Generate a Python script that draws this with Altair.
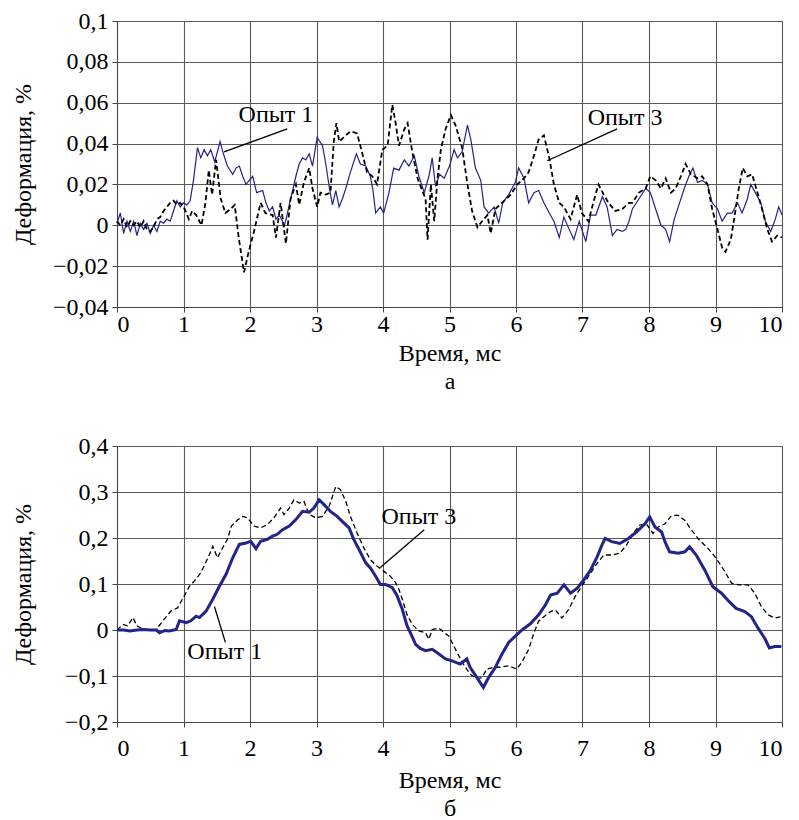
import altair as alt
import pandas as pd

# ---------------- panel "а" ----------------
a_t1 = [0.0, 0.05, 0.1, 0.15, 0.2, 0.25, 0.3, 0.35, 0.4, 0.45, 0.5, 0.55, 0.6, 0.65, 0.7, 0.75, 0.8, 0.85, 0.9, 0.95,
        1.0, 1.05, 1.1, 1.15, 1.21, 1.26, 1.31, 1.36, 1.41, 1.47, 1.55, 1.6, 1.66, 1.74, 1.79, 1.84, 1.89, 1.94, 2.04, 2.1,
        2.19, 2.24, 2.29, 2.34, 2.39, 2.44, 2.49, 2.51, 2.55, 2.59, 2.64, 2.69, 2.74, 2.79, 2.84, 2.89, 2.94, 3.01, 3.09, 3.14,
        3.19, 3.24, 3.29, 3.34, 3.39, 3.44, 3.51, 3.56, 3.6, 3.66, 3.74, 3.81, 3.85, 3.89, 3.96, 4.01, 4.09, 4.16, 4.24, 4.32,
        4.39, 4.47, 4.54, 4.62, 4.69, 4.74, 4.79, 4.85, 4.92, 5.0, 5.07, 5.12, 5.19, 5.27, 5.32, 5.39, 5.47, 5.52, 5.59, 5.67,
        5.74, 5.8, 5.89, 5.99, 6.04, 6.12, 6.19, 6.27, 6.34, 6.42, 6.5, 6.57, 6.65, 6.72, 6.8, 6.87, 6.95, 7.05, 7.12, 7.2,
        7.3, 7.37, 7.45, 7.52, 7.6, 7.65, 7.7, 7.75, 7.85, 7.95, 8.02, 8.1, 8.18, 8.25, 8.31, 8.38, 8.45, 8.53, 8.6, 8.66,
        8.73, 8.8, 8.88, 8.95, 9.03, 9.1, 9.18, 9.25, 9.33, 9.4, 9.48, 9.53, 9.6, 9.68, 9.75, 9.83, 9.9, 9.95, 10.0]
a_v1 = [0.001, 0.006, -0.004, 0.002, -0.003, 0.002, -0.005, 0.001, -0.002, 0.001, -0.004, 0.0, -0.003, 0.002, 0.001, 0.003, 0.002, 0.007, 0.012, 0.009,
        0.011, 0.010, 0.012, 0.022, 0.038, 0.033, 0.037, 0.034, 0.037, 0.031, 0.041, 0.035, 0.029, 0.025, 0.028, 0.029, 0.024, 0.020, 0.024, 0.016,
        0.017, 0.011, 0.007, 0.009, 0.003, 0.005, 0.002, -0.001, 0.004, 0.010, 0.017, 0.024, 0.030, 0.033, 0.032, 0.035, 0.029, 0.043, 0.039, 0.030,
        0.019, 0.010, 0.017, 0.009, 0.013, 0.018, 0.026, 0.031, 0.035, 0.030, 0.029, 0.024, 0.017, 0.006, 0.009, 0.006, 0.016, 0.028, 0.027, 0.032,
        0.029, 0.034, 0.024, 0.016, 0.024, 0.033, 0.019, 0.025, 0.023, 0.029, 0.037, 0.033, 0.036, 0.049, 0.042, 0.028, 0.022, 0.009, 0.006, 0.009,
        0.001, 0.011, 0.015, 0.021, 0.028, 0.023, 0.011, 0.016, 0.017, 0.011, 0.006, 0.002, -0.006, 0.004, -0.002, -0.007, 0.002, -0.008, 0.005, 0.005,
        0.014, 0.009, -0.005, -0.002, -0.003, -0.002, 0.002, 0.008, 0.013, 0.018, 0.016, 0.008, 0.0, -0.002, -0.008, 0.003, 0.010, 0.018, 0.024, 0.028,
        0.021, 0.022, 0.020, 0.011, 0.008, 0.002, 0.006, 0.006, 0.011, 0.006, 0.013, 0.020, 0.016, 0.011, 0.002, -0.003, 0.003, 0.009, 0.005]

a_t3 = [0.0, 0.05, 0.1, 0.15, 0.2, 0.25, 0.3, 0.35, 0.4, 0.45, 0.5, 0.55, 0.6, 0.65, 0.7, 0.75, 0.8, 0.85, 0.9, 0.95,
        1.0, 1.03, 1.08, 1.13, 1.19, 1.27, 1.33, 1.38, 1.43, 1.49, 1.56, 1.63, 1.71, 1.77, 1.83, 1.91, 1.98, 2.06, 2.16, 2.23,
        2.34, 2.39, 2.46, 2.54, 2.61, 2.69, 2.74, 2.81, 2.89, 2.94, 3.01, 3.06, 3.14, 3.21, 3.26, 3.3, 3.34, 3.41, 3.51, 3.61,
        3.69, 3.76, 3.84, 3.91, 3.99, 4.07, 4.14, 4.19, 4.24, 4.32, 4.37, 4.44, 4.52, 4.59, 4.64, 4.67, 4.72, 4.77, 4.82, 4.87,
        4.94, 5.02, 5.09, 5.19, 5.27, 5.34, 5.42, 5.49, 5.57, 5.62, 5.69, 5.79, 5.92, 6.02, 6.12, 6.19, 6.27, 6.34, 6.42, 6.5,
        6.57, 6.65, 6.72, 6.82, 6.92, 6.99, 7.09, 7.17, 7.24, 7.32, 7.39, 7.49, 7.6, 7.7, 7.75, 7.85, 7.95, 8.02, 8.1, 8.18,
        8.25, 8.33, 8.4, 8.48, 8.55, 8.63, 8.73, 8.8, 8.88, 8.95, 9.03, 9.1, 9.15, 9.23, 9.28, 9.35, 9.41, 9.48, 9.55, 9.63,
        9.7, 9.78, 9.85, 9.93, 10.0]
a_v3 = [0.002, 0.0, 0.003, -0.001, 0.002, 0.0, 0.002, -0.001, 0.002, -0.002, -0.003, -0.001, 0.003, 0.004, 0.007, 0.009, 0.011, 0.012, 0.010, 0.011,
        0.009, 0.007, 0.003, 0.007, 0.005, 0.0, 0.011, 0.027, 0.015, 0.032, 0.013, 0.006, 0.008, 0.010, -0.006, -0.023, -0.013, -0.003, 0.011, 0.006,
        0.005, -0.006, 0.011, -0.009, 0.013, 0.020, 0.010, 0.021, 0.028, 0.018, 0.009, 0.016, 0.015, 0.016, 0.041, 0.050, 0.041, 0.043, 0.046, 0.045,
        0.035, 0.026, 0.024, 0.020, 0.037, 0.039, 0.059, 0.050, 0.039, 0.047, 0.050, 0.036, 0.023, 0.017, 0.013, -0.007, 0.020, 0.002, 0.023, 0.037,
        0.047, 0.054, 0.049, 0.038, 0.020, 0.007, -0.001, 0.002, 0.005, -0.004, 0.008, 0.011, 0.015, 0.020, 0.023, 0.026, 0.034, 0.042, 0.044, 0.033,
        0.020, 0.011, 0.009, 0.003, 0.015, 0.006, 0.002, 0.012, 0.020, 0.015, 0.011, 0.007, 0.008, 0.011, 0.011, 0.016, 0.018, 0.024, 0.022, 0.018,
        0.023, 0.016, 0.018, 0.024, 0.030, 0.025, 0.023, 0.024, 0.020, 0.008, -0.002, -0.011, -0.013, -0.007, 0.003, 0.018, 0.028, 0.024, 0.025, 0.016,
        0.008, -0.002, -0.008, -0.005, -0.006]

# ---------------- panel "б" ----------------
b_t1 = [0.0, 0.1, 0.19, 0.3, 0.39, 0.5, 0.59, 0.64, 0.72, 0.79, 0.89, 0.94, 1.04, 1.11, 1.19, 1.24, 1.34, 1.44, 1.54, 1.64,
        1.74, 1.84, 1.94, 2.01, 2.09, 2.16, 2.26, 2.34, 2.41, 2.49, 2.59, 2.69, 2.79, 2.89, 2.96, 3.04, 3.11, 3.21, 3.31, 3.41,
        3.49, 3.56, 3.64, 3.74, 3.81, 3.89, 3.96, 4.04, 4.14, 4.21, 4.29, 4.36, 4.44, 4.49, 4.56, 4.64, 4.74, 4.81, 4.94, 5.04,
        5.16, 5.26, 5.31, 5.41, 5.51, 5.59, 5.69, 5.79, 5.89, 5.97, 6.09, 6.22, 6.34, 6.44, 6.52, 6.62, 6.72, 6.82, 6.92, 7.02,
        7.12, 7.22, 7.29, 7.34, 7.44, 7.56, 7.69, 7.81, 7.94, 8.01, 8.09, 8.19, 8.24, 8.31, 8.44, 8.54, 8.61, 8.71, 8.84, 8.96,
        9.09, 9.21, 9.31, 9.44, 9.54, 9.64, 9.74, 9.81, 9.89, 9.99]
b_v1 = [0.0, 0.0, -0.002, 0.0, 0.001, 0.0, 0.0, -0.006, -0.001, -0.002, 0.001, 0.02, 0.016, 0.02, 0.03, 0.027, 0.041, 0.067, 0.095, 0.121,
        0.157, 0.186, 0.189, 0.193, 0.177, 0.193, 0.197, 0.204, 0.208, 0.218, 0.226, 0.240, 0.258, 0.256, 0.265, 0.283, 0.273, 0.258, 0.247, 0.233,
        0.222, 0.197, 0.175, 0.146, 0.135, 0.117, 0.099, 0.099, 0.092, 0.075, 0.045, 0.010, -0.015, -0.031, -0.040, -0.045, -0.042, -0.049, -0.063, -0.067,
        -0.074, -0.063, -0.081, -0.103, -0.125, -0.103, -0.081, -0.052, -0.027, -0.016, 0.0, 0.014, 0.033, 0.054, 0.076, 0.080, 0.098, 0.080, 0.091, 0.109,
        0.130, 0.159, 0.184, 0.199, 0.192, 0.188, 0.199, 0.213, 0.231, 0.246, 0.224, 0.213, 0.192, 0.170, 0.167, 0.170, 0.181, 0.163, 0.130, 0.094,
        0.080, 0.061, 0.047, 0.040, 0.029, 0.004, -0.018, -0.039, -0.036, -0.036]

b_t3 = [0.0, 0.09, 0.16, 0.24, 0.3, 0.39, 0.5, 0.59, 0.69, 0.81, 0.91, 1.01, 1.09, 1.16, 1.26, 1.39, 1.44, 1.51, 1.59, 1.66,
        1.72, 1.82, 1.89, 1.96, 2.06, 2.16, 2.26, 2.36, 2.46, 2.51, 2.59, 2.66, 2.74, 2.81, 2.89, 2.99, 3.09, 3.19, 3.29, 3.36,
        3.44, 3.51, 3.61, 3.71, 3.81, 3.91, 4.01, 4.11, 4.19, 4.24, 4.29, 4.36, 4.44, 4.54, 4.64, 4.69, 4.74, 4.84, 4.94, 4.99,
        5.09, 5.19, 5.31, 5.41, 5.49, 5.56, 5.66, 5.76, 5.89, 6.01, 6.09, 6.19, 6.27, 6.34, 6.42, 6.52, 6.59, 6.69, 6.79, 6.89,
        7.02, 7.12, 7.22, 7.32, 7.44, 7.56, 7.66, 7.76, 7.86, 7.96, 8.06, 8.14, 8.24, 8.34, 8.44, 8.54, 8.64, 8.76, 8.89, 9.01,
        9.14, 9.24, 9.36, 9.49, 9.59, 9.69, 9.79, 9.89, 9.99]
b_v3 = [0.0, 0.012, 0.009, 0.027, 0.009, 0.002, 0.0, 0.001, 0.02, 0.041, 0.048, 0.074, 0.095, 0.106, 0.124, 0.164, 0.182, 0.157, 0.179, 0.197,
        0.226, 0.240, 0.247, 0.244, 0.226, 0.222, 0.229, 0.244, 0.265, 0.251, 0.265, 0.283, 0.276, 0.280, 0.251, 0.244, 0.247, 0.269, 0.312, 0.305,
        0.280, 0.247, 0.211, 0.179, 0.153, 0.139, 0.128, 0.117, 0.103, 0.088, 0.067, 0.034, 0.012, -0.002, -0.006, -0.020, 0.001, 0.004, -0.008, -0.013,
        -0.042, -0.070, -0.096, -0.106, -0.103, -0.085, -0.081, -0.081, -0.078, -0.085, -0.070, -0.042, -0.006, 0.019, 0.029, 0.040, 0.044, 0.026, 0.044, 0.073,
        0.102, 0.123, 0.145, 0.163, 0.163, 0.167, 0.184, 0.210, 0.228, 0.231, 0.210, 0.224, 0.231, 0.249, 0.249, 0.238, 0.217, 0.195, 0.177, 0.156,
        0.127, 0.102, 0.098, 0.098, 0.080, 0.051, 0.033, 0.026, 0.029]

# annotations (text position, leader start -> end) in data units
a_labels = ["Опыт 1", "Опыт 3"]
a_lab_t = [2.39, 7.64]
a_lab_v = [0.054, 0.0525]
a_lead_t = [2.56, 7.52]
a_lead_v = [0.0472, 0.0472]
a_lead_t2 = [1.61, 6.47]
a_lead_v2 = [0.0359, 0.0316]

b_labels = ["Опыт 3", "Опыт 1"]
b_lab_t = [4.54, 1.62]
b_lab_v = [0.246, -0.048]
b_lead_t = [4.62, 1.465]
b_lead_v = [0.218, 0.051]
b_lead_t2 = [3.96, 1.63]
b_lead_v2 = [0.136, -0.027]

a_yticks = [-0.04, -0.02, 0, 0.02, 0.04, 0.06, 0.08, 0.1]
b_yticks = [-0.2, -0.1, 0, 0.1, 0.2, 0.3, 0.4]
x_ticks = list(range(11))

FONT = "Liberation Serif"
FS = 24
BLUE = "#23238c"


def panel(t1, v1, t3, v3, ydom, yticks, yfmt, xtitle, height, w1, w3, labels, lt, lv, rt, rv, rt2, rv2,
          blue_on_top, label_pad, title_pad):
    d1 = pd.DataFrame({"t": t1, "v": v1})
    d3 = pd.DataFrame({"t": t3, "v": v3})
    x = alt.X("t:Q", scale=alt.Scale(domain=[0, 10], nice=False, zero=False),
              axis=alt.Axis(values=x_ticks, title=xtitle, labelPadding=label_pad, titlePadding=title_pad,
                            titleLineHeight=28, grid=True))
    y = alt.Y("v:Q", scale=alt.Scale(domain=ydom, nice=False, zero=False),
              axis=alt.Axis(values=yticks, format=yfmt, labelExpr="replace(datum.label, '.', ',')",
                            title="Деформация, %", labelPadding=4, minExtent=68, maxExtent=68,
                            titlePadding=14, grid=True))
    l1 = alt.Chart(d1).mark_line(color=BLUE, strokeWidth=w1).encode(x=x, y=y)
    l3 = alt.Chart(d3).mark_line(color="black", strokeWidth=w3, strokeDash=[5, 3]).encode(x=x, y=y)
    lab = pd.DataFrame({"t": lt, "v": lv, "txt": labels})
    txt = alt.Chart(lab).mark_text(font=FONT, fontSize=FS, color="black", align="center",
                                   baseline="middle").encode(x=x, y=y, text="txt:N")
    ld = pd.DataFrame({"t": rt, "v": rv, "t2": rt2, "v2": rv2})
    rule = alt.Chart(ld).mark_rule(color="black", strokeWidth=1.3).encode(
        x=x, y=y, x2=alt.X2("t2:Q"), y2=alt.Y2("v2:Q"))
    layers = [l3, l1] if blue_on_top else [l1, l3]
    return alt.layer(*layers, rule, txt).properties(width=665, height=height)


top = panel(a_t1, a_v1, a_t3, a_v3, [-0.04, 0.1], a_yticks, ".2~f", ["Время, мс", "а"], 286, 1.2, 1.8,
            a_labels, a_lab_t, a_lab_v, a_lead_t, a_lead_v, a_lead_t2, a_lead_v2, False, 0, 5)
bottom = panel(b_t1, b_v1, b_t3, b_v3, [-0.2, 0.4], b_yticks, ".1~f", ["Время, мс", "б"], 276, 3.0, 1.3,
               b_labels, b_lab_t, b_lab_v, b_lead_t, b_lead_v, b_lead_t2, b_lead_v2, True, 9, 8)

chart = alt.vconcat(top, bottom, spacing=39).properties(
    padding={"left": 10, "top": 8, "right": 5, "bottom": 0}
).configure_axis(
    labelFont=FONT, titleFont=FONT, labelFontSize=FS, titleFontSize=FS, titleFontWeight="normal",
    labelColor="black", titleColor="black", gridColor="#5a5a5a", gridWidth=1.1,
    domainColor="#444", tickColor="#444", tickSize=5
).configure_view(stroke="#5a5a5a")

chart.save("out.html", embed_options={"renderer": "svg", "actions": False})
